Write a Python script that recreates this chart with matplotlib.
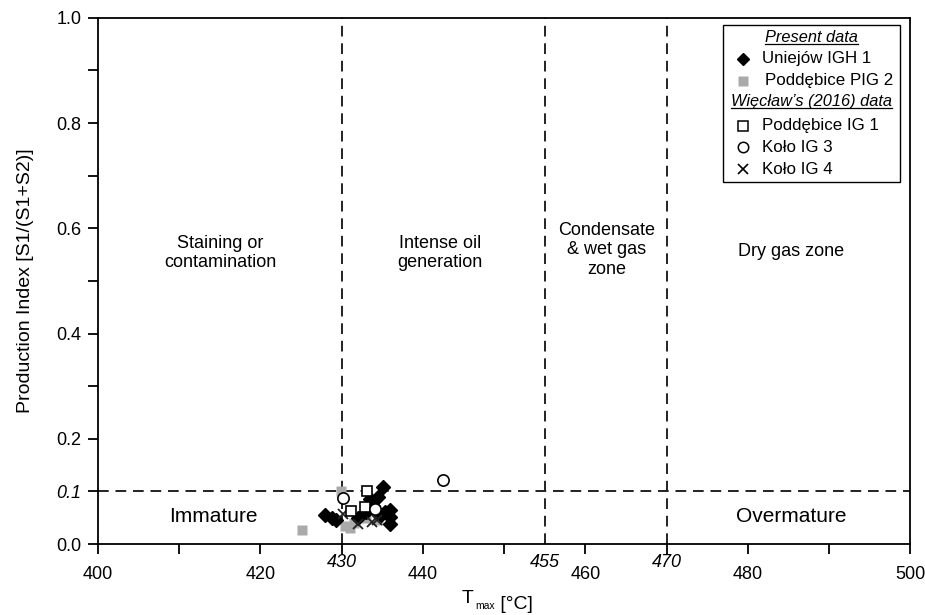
import matplotlib
matplotlib.use("Agg")
import matplotlib.pyplot as plt
from matplotlib.lines import Line2D
from matplotlib.patches import Rectangle
from matplotlib.transforms import blended_transform_factory

plt.rcParams['font.family'] = ['Liberation Sans', 'DejaVu Sans']

# Data (Tmax [°C], Production Index)
uniejow_t = [428.0, 428.8, 429.3, 432.0, 433.0, 433.5, 433.8, 434.5, 434.8, 435.1, 435.3, 436.0, 436.0, 436.0]
uniejow_pi = [0.055, 0.049, 0.045, 0.050, 0.060, 0.085, 0.072, 0.090, 0.055, 0.108, 0.060, 0.065, 0.051, 0.038]

poddebice_pig2_t = [425.1, 429.9, 430.4, 431.0, 431.5, 433.0, 434.5]
poddebice_pig2_pi = [0.027, 0.100, 0.035, 0.030, 0.040, 0.050, 0.045]

poddebice_ig1_t = [433.1, 431.2, 432.9]
poddebice_ig1_pi = [0.100, 0.063, 0.071]

kolo3_t = [430.1, 434.1, 442.5]
kolo3_pi = [0.088, 0.067, 0.122]

kolo4_t = [430.2, 432.0, 433.7, 434.3]
kolo4_pi = [0.058, 0.039, 0.042, 0.045]

zone_bounds_t = [430, 455, 470]
pi_bound = 0.1

major_labels = {400: '400', 420: '420', 440: '440', 460: '460', 480: '480', 500: '500'}

fig = plt.figure(figsize=(9.25, 6.15), dpi=100)
ax = fig.add_axes([0.106, 0.1154, 0.878, 0.8556])

ax.set_xlim(400, 500)
ax.set_ylim(0, 1.0)

dash = (0, (5.5, 3.5))
for t in zone_bounds_t:
    ax.axvline(t, color='#222222', lw=1.4, linestyle=dash, zorder=1)
ax.axhline(pi_bound, color='#222222', lw=1.4, linestyle=dash, zorder=1)

ms = 7.8
ax.plot(poddebice_pig2_t, poddebice_pig2_pi, 's', color='#aaaaaa', ms=ms, mec='none', zorder=3)
ax.plot(uniejow_t, uniejow_pi, 'D', color='black', ms=7.3, mec='black', zorder=4)
ax.plot(kolo4_t, kolo4_pi, 'x', color='#222222', ms=ms, mew=1.3, zorder=5)
ax.plot(poddebice_ig1_t, poddebice_ig1_pi, 's', mfc='white', mec='black', ms=ms, mew=1.2, zorder=6)
ax.plot(kolo3_t, kolo3_pi, 'o', mfc='white', mec='black', ms=ms + 0.3, mew=1.2, zorder=7)

# ticks
tfs = 13
xt = list(range(400, 501, 10))
ax.set_xticks(xt)
ax.set_xticklabels([major_labels.get(v, '') for v in xt], fontsize=tfs)
ax.tick_params(axis='x', which='major', length=7, width=1.3, pad=9, direction='out')
bt = blended_transform_factory(ax.transData, ax.transAxes)
for v in zone_bounds_t:
    ax.text(v, -0.036, str(v), transform=bt, ha='center', va='center',
            fontsize=tfs, style='italic', clip_on=False)

yt = [round(i * 0.1, 1) for i in range(11)]
ax.set_yticks(yt)
ylabs = []
for v in yt:
    if abs(v - 0.1) < 1e-9:
        ylabs.append('0.1')
    elif round(v * 10) % 2 == 0:
        ylabs.append(f'{v:.1f}')
    else:
        ylabs.append('')
ax.set_yticklabels(ylabs, fontsize=tfs)
for lab, v in zip(ax.get_yticklabels(), yt):
    if abs(v - 0.1) < 1e-9:
        lab.set_style('italic')
ax.tick_params(axis='y', length=7, width=1.3, pad=5, direction='out')

for s in ax.spines.values():
    s.set_linewidth(1.3)

ax.set_ylabel('Production Index [S1/(S1+S2)]', fontsize=14, labelpad=16)

# x label: T with small subscript "max", then [°C]
t1 = fig.text(462 / 925, 1 - 603 / 615, 'T', fontsize=14, ha='left', va='baseline')
t2 = ax.annotate('max', xy=(1.0, 0.0), xycoords=t1, xytext=(1, -1.5), textcoords='offset points',
                 fontsize=7.5, ha='left', va='baseline', annotation_clip=False)
t3 = ax.annotate(' [°C]', xy=(1.0, 0.0), xycoords=t2, xytext=(0, 1.5), textcoords='offset points',
                 fontsize=14, ha='left', va='baseline', annotation_clip=False)

# zone labels
fs = 13
ax.text(415.1, 0.553, 'Staining or\ncontamination', ha='center', va='center', fontsize=fs, linespacing=1.2)
ax.text(442.1, 0.553, 'Intense oil\ngeneration', ha='center', va='center', fontsize=fs, linespacing=1.2)
ax.text(462.6, 0.559, 'Condensate\n& wet gas\nzone', ha='center', va='center', fontsize=fs, linespacing=1.2)
ax.text(485.3, 0.556, 'Dry gas zone', ha='center', va='center', fontsize=fs)
ax.text(414.2, 0.052, 'Immature', ha='center', va='center', fontsize=15)
ax.text(485.3, 0.052, 'Overmature', ha='center', va='center', fontsize=15)

# legend (manual)
def ax_xy(px, py):
    x0, x1 = 98, 910
    y0, y1 = 544, 18
    return (px - x0) / (x1 - x0), (py - y0) / (y1 - y0)

bx0, by0 = ax_xy(723, 182)
bx1, by1 = ax_xy(900, 25)
ax.add_patch(Rectangle((bx0, by0), bx1 - bx0, by1 - by0, transform=ax.transAxes,
                       facecolor='white', edgecolor='black', lw=1.0, zorder=10))

lfs = 12.2
rows = [
    ('header', 'Present data', 38),
    ('D', 'Uniejów IGH 1', 59),
    ('sg', 'Poddębice PIG 2', 81),
    ('header', 'Więcław’s (2016) data', 102),
    ('so', 'Poddębice IG 1', 126),
    ('o', 'Koło IG 3', 147.5),
    ('x', 'Koło IG 4', 169.5),
]
cx = (723 + 900) / 2
headers = []
for kind, label, py in rows:
    if kind == 'header':
        x, y = ax_xy(cx, py)
        t = ax.text(x, y, label, transform=ax.transAxes, ha='center', va='center',
                    fontsize=lfs - 0.4, style='italic', zorder=11)
        headers.append(t)
    else:
        mx, my = ax_xy(743, py)
        tpx = 761.5
        if kind == 'D':
            ax.plot([mx], [my], 'D', color='black', ms=6.5, transform=ax.transAxes, clip_on=False, zorder=11)
        elif kind == 'sg':
            ax.plot([mx], [my], 's', color='#aaaaaa', mec='none', ms=7, transform=ax.transAxes, clip_on=False, zorder=11)
            tpx = 765
        elif kind == 'so':
            ax.plot([mx], [my], 's', mfc='white', mec='black', mew=1.1, ms=7, transform=ax.transAxes, clip_on=False, zorder=11)
        elif kind == 'o':
            ax.plot([mx], [my], 'o', mfc='white', mec='black', mew=1.1, ms=7.5, transform=ax.transAxes, clip_on=False, zorder=11)
        elif kind == 'x':
            ax.plot([mx], [my], 'x', color='black', mew=1.2, ms=7.5, transform=ax.transAxes, clip_on=False, zorder=11)
        tx, ty = ax_xy(tpx, py)
        ax.text(tx, ty, label, transform=ax.transAxes, ha='left', va='center', fontsize=lfs, zorder=11)

fig.canvas.draw()
r = fig.canvas.get_renderer()
inv = ax.transAxes.inverted()
for t in headers:
    bb = t.get_window_extent(renderer=r)
    (xa, ya) = inv.transform((bb.x0, bb.y0 + 1))
    (xb, _) = inv.transform((bb.x1, bb.y0 + 1))
    ax.add_line(Line2D([xa, xb], [ya, ya], transform=ax.transAxes, color='black', lw=0.9, zorder=11))

fig.savefig('out.png', dpi=100)
